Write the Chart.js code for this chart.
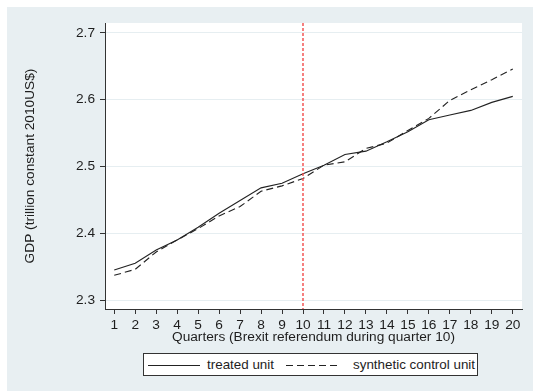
<!DOCTYPE html>
<html>
<head>
<meta charset="utf-8">
<script src="https://cdn.jsdelivr.net/npm/chart.js@4"></script>
<style>
  html, body { margin: 0; padding: 0; background: #fff; }
  #wrap { position: relative; width: 533px; height: 391px; }
  #legend {
    position: absolute; left: 143px; top: 353px; width: 333px; height: 21px;
    background: #fff; border: 1px solid #333;
    font: 13.4px "Liberation Sans", Arial, sans-serif; color: #1e1e1e;
  }
  #legend span { position: absolute; top: 3px; line-height: 15px; white-space: nowrap; }
  #legend svg { position: absolute; top: 0; left: 0; }
</style>
</head>
<body>
<div id="wrap">
  <canvas id="gdpChart"></canvas>
  <div id="legend">
    <svg width="333" height="21">
      <line x1="4" y1="11.5" x2="56" y2="11.5" stroke="#222" stroke-width="1"/>
      <line x1="142" y1="11.5" x2="196" y2="11.5" stroke="#222" stroke-width="1" stroke-dasharray="7,4"/>
    </svg>
    <span style="left:63px">treated unit</span>
    <span style="left:209px">synthetic control unit</span>
  </div>
</div>
<script>
/* GDP: treated unit vs synthetic control (Brexit) */

const quarters = [1,2,3,4,5,6,7,8,9,10,11,12,13,14,15,16,17,18,19,20];
const treated = [2.345, 2.355, 2.375, 2.390, 2.409, 2.430, 2.449, 2.468, 2.475, 2.489,
                 2.502, 2.518, 2.523, 2.537, 2.552, 2.570, 2.577, 2.584, 2.596, 2.605];
const synthetic = [2.337, 2.346, 2.372, 2.390, 2.407, 2.426, 2.440, 2.463, 2.471, 2.482,
                   2.502, 2.507, 2.527, 2.535, 2.554, 2.572, 2.599, 2.615, 2.630, 2.646];
const yTicks = [2.3, 2.4, 2.5, 2.6, 2.7];
const xTicks = quarters;
const treatQuarter = 10;

const FONT = { family: '"Liberation Sans", Arial, sans-serif', size: 13.7 };
const TXT = '#1e1e1e';

const bgPlugin = {
  id: 'stataBg',
  beforeDraw(chart) {
    const ctx = chart.ctx;
    const { left, top, right, bottom } = chart.chartArea;
    ctx.save();
    ctx.fillStyle = '#ffffff';
    ctx.fillRect(0, 0, chart.width, chart.height);
    ctx.fillStyle = '#e8eff2';
    ctx.fillRect(7, 7, chart.width - 7, chart.height - 7);
    ctx.fillStyle = '#ffffff';
    ctx.fillRect(left, top, right - left, bottom - top);
    ctx.restore();
  },
  afterDatasetsDraw(chart) {
    // vertical line at the referendum quarter
    const ctx = chart.ctx;
    const { top, bottom } = chart.chartArea;
    const x = Math.round(chart.scales.x.getPixelForValue(treatQuarter));
    ctx.save();
    ctx.beginPath();
    ctx.setLineDash([3, 2]);
    ctx.strokeStyle = '#f24a4a';
    ctx.lineWidth = 1.4;
    ctx.moveTo(x, top);
    ctx.lineTo(x, bottom);
    ctx.stroke();
    ctx.restore();
  }
};

new Chart(document.getElementById('gdpChart'), {
  type: 'line',
  data: {
    datasets: [{
      label: 'treated unit',
      data: quarters.map((q, i) => ({ x: q, y: treated[i] })),
      borderColor: '#222',
      borderWidth: 1.1,
      pointRadius: 0,
      tension: 0,
      fill: false
    }, {
      label: 'synthetic control unit',
      data: quarters.map((q, i) => ({ x: q, y: synthetic[i] })),
      borderColor: '#222',
      borderWidth: 1.1,
      borderDash: [7, 4],
      pointRadius: 0,
      tension: 0,
      fill: false
    }]
  },
  plugins: [bgPlugin],
  options: {
    responsive: true,
    maintainAspectRatio: false,
    animation: false,
    layout: { padding: { left: 7, top: 23, right: 11, bottom: 0 } },
    plugins: { legend: { display: false }, tooltip: { enabled: false } },
    scales: {
      x: {
        type: 'linear',
        min: 0.56, max: 20.44,
        afterBuildTicks: s => { s.ticks = xTicks.map(v => ({ value: v })); },
        afterFit: s => { s.height = 82; },
        ticks: { autoSkip: false, maxRotation: 0, padding: 3, color: TXT, font: FONT },
        grid: { drawOnChartArea: false, drawTicks: true, tickLength: 5, tickColor: '#333' },
        border: { display: true, color: '#333', width: 1 },
        title: {
          display: true, text: 'Quarters (Brexit referendum during quarter 10)',
          color: TXT, font: FONT, padding: { top: 0, bottom: 46 }
        }
      },
      y: {
        min: 2.2866, max: 2.7149,
        afterBuildTicks: s => { s.ticks = yTicks.map(v => ({ value: v })); },
        afterFit: s => { s.width = 98; },
        ticks: { autoSkip: false, padding: 5, color: TXT, font: FONT, callback: v => v.toFixed(1) },
        grid: { color: '#e6eef1', lineWidth: 1, drawTicks: true, tickLength: 5, tickColor: '#333' },
        border: { display: true, color: '#333', width: 1 },
        title: {
          display: true, text: 'GDP (trillion constant 2010US$)',
          color: TXT, font: FONT, padding: { top: 15, bottom: 0 }
        }
      }
    }
  }
});
</script>
</body>
</html>
